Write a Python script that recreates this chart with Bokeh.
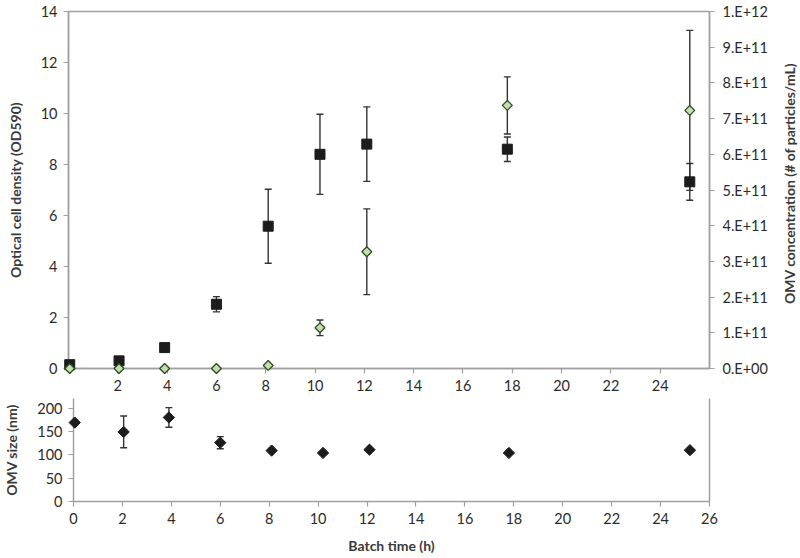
import math
from bokeh.plotting import figure
from bokeh.models import (Range1d, LinearAxis, FixedTicker, Whisker, TeeHead,
                          ColumnDataSource, CustomJSTickFormatter, Label)
from bokeh.layouts import column, row
from bokeh.embed import file_html
from bokeh.resources import INLINE

# ---- data ----
batch_time = [0.05, 2.05, 3.9, 6.0, 8.1, 10.2, 12.1, 17.8, 25.2]
od590 = [0.15, 0.3, 0.82, 2.52, 5.58, 8.4, 8.8, 8.6, 7.32]
od590_err = [0, 0, 0, 0.3, 1.45, 1.57, 1.46, 0.48, 0.72]
omv_conc = [0, 0, 0, 0, 0.085e11, 1.14e11, 3.27e11, 7.37e11, 7.23e11]
omv_conc_err = [0, 0, 0, 0, 0, 0.22e11, 1.2e11, 0.8e11, 2.24e11]
omv_size = [169, 149, 180, 126, 109, 104, 111, 104, 110]
omv_size_err = [5, 34, 21, 13, 0, 0, 0, 0, 0]

od_ticks = [0, 2, 4, 6, 8, 10, 12, 14]
conc_ticks = [0, 1e11, 2e11, 3e11, 4e11, 5e11, 6e11, 7e11, 8e11, 9e11, 1e12]
size_ticks = [0, 50, 100, 150, 200]
top_time_ticks = [2, 4, 6, 8, 10, 12, 14, 16, 18, 20, 22, 24]
bottom_time_ticks = [0, 2, 4, 6, 8, 10, 12, 14, 16, 18, 20, 22, 24, 26]
conc_title = "OMV concentration (# of particles/mL)"

FONT = "Lato"
AXIS_COLOR = "#a0a0a0"
TEXT_COLOR = "#2b2b2b"
TITLE_COLOR = "#3a3a3a"
ERR_COLOR = "#333333"


def style_axis(ax, ticks=None):
    ax.axis_line_color = AXIS_COLOR
    ax.axis_line_width = 1.5
    ax.major_tick_line_color = AXIS_COLOR
    ax.major_tick_line_width = 1.2
    ax.major_tick_out = 5
    ax.major_tick_in = 0
    ax.minor_tick_line_color = None
    ax.major_label_text_font = FONT
    ax.major_label_text_font_size = "14.5px"
    ax.major_label_text_color = TEXT_COLOR
    ax.major_label_standoff = 6
    ax.axis_label_text_font = FONT
    ax.axis_label_text_font_size = "14px"
    ax.axis_label_text_font_style = "bold"
    ax.axis_label_text_color = TITLE_COLOR
    if ticks is not None:
        ax.ticker = FixedTicker(ticks=ticks)


def err_source(x, y, e):
    xs, lo, hi = [], [], []
    for xi, yi, ei in zip(x, y, e):
        if ei > 0:
            xs.append(xi)
            lo.append(yi - ei)
            hi.append(yi + ei)
    return ColumnDataSource(dict(x=xs, lower=lo, upper=hi))


def whisker(src, **kw):
    return Whisker(base="x", lower="lower", upper="upper", source=src,
                   line_color=ERR_COLOR, line_width=1.4,
                   upper_head=TeeHead(size=7, line_color=ERR_COLOR, line_width=1.4),
                   lower_head=TeeHead(size=7, line_color=ERR_COLOR, line_width=1.4), **kw)


# ---- top panel ----
p1 = figure(width=778, height=398, x_range=Range1d(0, 26), y_range=Range1d(0, 14),
            output_backend="svg", toolbar_location=None,
            min_border_left=68, min_border_right=69, min_border_top=11, min_border_bottom=30)
p1.extra_y_ranges = {"conc": Range1d(0, 1e12)}
p1.xgrid.visible = False
p1.ygrid.visible = False
p1.outline_line_color = AXIS_COLOR
p1.outline_line_width = 1.5
p1.background_fill_color = "white"
p1.border_fill_color = "white"

style_axis(p1.xaxis[0], top_time_ticks)
style_axis(p1.yaxis[0], od_ticks)
p1.yaxis[0].axis_label = "Optical cell density (OD590)"
p1.yaxis[0].axis_label_standoff = 14

raxis = LinearAxis(y_range_name="conc")
style_axis(raxis, conc_ticks)
raxis.formatter = CustomJSTickFormatter(code="""
if (tick == 0) { return "0.E+00"; }
const e = Math.floor(Math.log10(tick) + 1e-9);
const m = Math.round(tick / Math.pow(10, e));
return m + ".E+" + e;
""")
raxis.major_label_standoff = 8
p1.add_layout(raxis, "right")

p1.add_layout(whisker(err_source(batch_time, od590, od590_err)))
p1.add_layout(whisker(err_source(batch_time, omv_conc, omv_conc_err), y_range_name="conc"))

p1.scatter(batch_time, od590, marker="square", size=10, fill_color="#1c1c1c",
           line_color="#1c1c1c", level="overlay")
p1.scatter(batch_time, omv_conc, marker="square", angle=math.pi / 4, size=7,
           fill_color="#c3dfae", line_color="#2e4a22", line_width=1.3,
           y_range_name="conc", level="overlay")

# ---- narrow strip for the right-hand axis title (reads bottom-to-top) ----
pt = figure(width=22, height=398, x_range=Range1d(0, 22), y_range=Range1d(0, 398),
            output_backend="svg", toolbar_location=None,
            x_axis_location=None, y_axis_location=None,
            min_border_left=0, min_border_right=0, min_border_top=0, min_border_bottom=0)
pt.xgrid.visible = False
pt.ygrid.visible = False
pt.outline_line_color = None
pt.background_fill_color = "white"
pt.border_fill_color = "white"
pt.add_layout(Label(x=11, y=206.5, text=conc_title, angle=math.pi / 2,
                    text_align="center", text_baseline="middle",
                    text_font=FONT, text_font_size="14px", text_font_style="bold",
                    text_color=TITLE_COLOR))

# ---- bottom panel ----
p2 = figure(width=800, height=160, x_range=p1.x_range, y_range=Range1d(0, 220.6),
            output_backend="svg", toolbar_location=None,
            min_border_left=68, min_border_right=91, min_border_top=0, min_border_bottom=57)
p2.xgrid.visible = False
p2.ygrid.visible = False
p2.outline_line_color = None
p2.background_fill_color = "white"
p2.border_fill_color = "white"

style_axis(p2.xaxis[0], bottom_time_ticks)
p2.xaxis[0].axis_label = "Batch time (h)"
p2.xaxis[0].axis_label_standoff = 10
style_axis(p2.yaxis[0], size_ticks)
p2.yaxis[0].axis_label = "OMV size (nm)"
p2.yaxis[0].axis_label_standoff = 14

rline = LinearAxis()
rline.axis_line_color = AXIS_COLOR
rline.axis_line_width = 1.5
rline.major_tick_line_color = None
rline.minor_tick_line_color = None
rline.major_label_text_font_size = "0px"
rline.ticker = FixedTicker(ticks=[])
p2.add_layout(rline, "right")

p2.add_layout(whisker(err_source(batch_time, omv_size, omv_size_err)))
p2.scatter(batch_time, omv_size, marker="square", angle=math.pi / 4, size=8,
           fill_color="#1c1c1c", line_color="#1c1c1c", level="overlay")

layout = column(row(p1, pt, spacing=0), p2, spacing=0)
open("out.html", "w").write(file_html(layout, INLINE))
